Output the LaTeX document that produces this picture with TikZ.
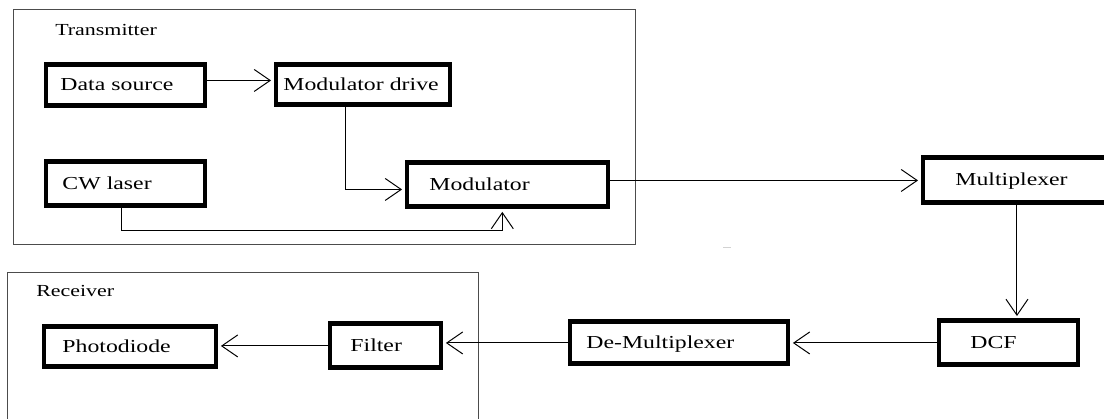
\documentclass[tikz,border=0pt]{standalone}
\usepackage{fontspec}
\setmainfont{Liberation Serif}[FakeStretch=1.3]
\usepackage{tikz}
\usetikzlibrary{arrows.meta, calc}

\begin{document}
\begin{tikzpicture}[x=0.25mm, y=-0.25mm,
    blk/.style={draw, line width=3.5pt, anchor=north west, align=left,
      inner ysep=0pt, minimum width=0pt, text height=2.3ex, text depth=.7ex,
      font=\fontsize{13}{15}\selectfont},
    flow/.style={line width=0.7pt, -{Straight Barb[length=4mm,width=5.5mm]}, shorten >=1.75pt},
    frame/.style={draw=gray!60!black, line width=0.7pt},
    grp/.style={anchor=west, inner sep=0pt, font=\fontsize{12}{14}\selectfont}]
      \useasboundingbox (0,0) rectangle (1104,419);

      % group frames
      \draw[frame] (13,9) rectangle (635,244);
      \draw[frame] (7,272) rectangle (478,430);
      \node[grp] (txlbl) at (55,30) {Transmitter};
      \node[grp] (rxlbl) at (36,291) {Receiver};
      \draw[gray!35, line width=0.5pt] (723,247) -- (731,247);

      % transmitter blocks
      \node[blk, text width=32.5mm, inner xsep=3.625mm, minimum height=10.25mm] (datasrc) at (43.5,62.5) {Data source};
      \node[blk, text width=39.75mm, inner xsep=1.875mm, minimum height=10mm] (moddrive) at (273.5,62.5) {Modulator drive};
      \node[blk, text width=31.5mm, inner xsep=4.125mm, minimum height=11mm] (cwlaser) at (43.5,159.5) {CW laser};
      \node[blk, text width=39mm, inner xsep=5.625mm, minimum height=11mm] (modulator) at (404.5,160.5) {Modulator};

      % link blocks
      \node[blk, text width=30.75mm, inner xsep=8.125mm, minimum height=11.25mm] (mux) at (920.5,155.5) {Multiplexer};
      \node[blk, text width=19mm, inner xsep=7.875mm, minimum height=11mm] (dcf) at (936.5,318.5) {DCF};
      \node[blk, text width=46.25mm, inner xsep=4.125mm, minimum height=10.5mm] (demux) at (567.5,319.5) {De-Multiplexer};

      % receiver blocks
      \node[blk, text width=33.75mm, inner xsep=4.625mm, minimum height=10mm] (photo) at (41.5,324.5) {Photodiode};
      \node[blk, text width=17.5mm, inner xsep=5.125mm, minimum height=11mm] (filter) at (327.5,321.5) {Filter};

      \draw[flow] ([yshift=1.25mm]datasrc.east) -- ([yshift=1.25mm]datasrc.east -| moddrive.west);
      \draw[flow] ($(moddrive.south west)!.4!(moddrive.south east)$) |- ([yshift=-1.125mm]modulator.west);
      \draw[flow] ($(cwlaser.south west)!.475!(cwlaser.south east)$) -- ++(0,22.5)
        -| ($(modulator.south west)!.475!(modulator.south east)$);
      \draw[flow] (modulator.east |- mux.west) -- (mux.west);
      \draw[flow] (mux.south) -- (mux.south |- dcf.north);
      \draw[flow] (dcf.west) -- (dcf.west -| demux.east);
      \draw[flow] (demux.west) -- (demux.west -| filter.east);
      \draw[flow] (filter.west) -- (filter.west -| photo.east);
\end{tikzpicture}
\end{document}
